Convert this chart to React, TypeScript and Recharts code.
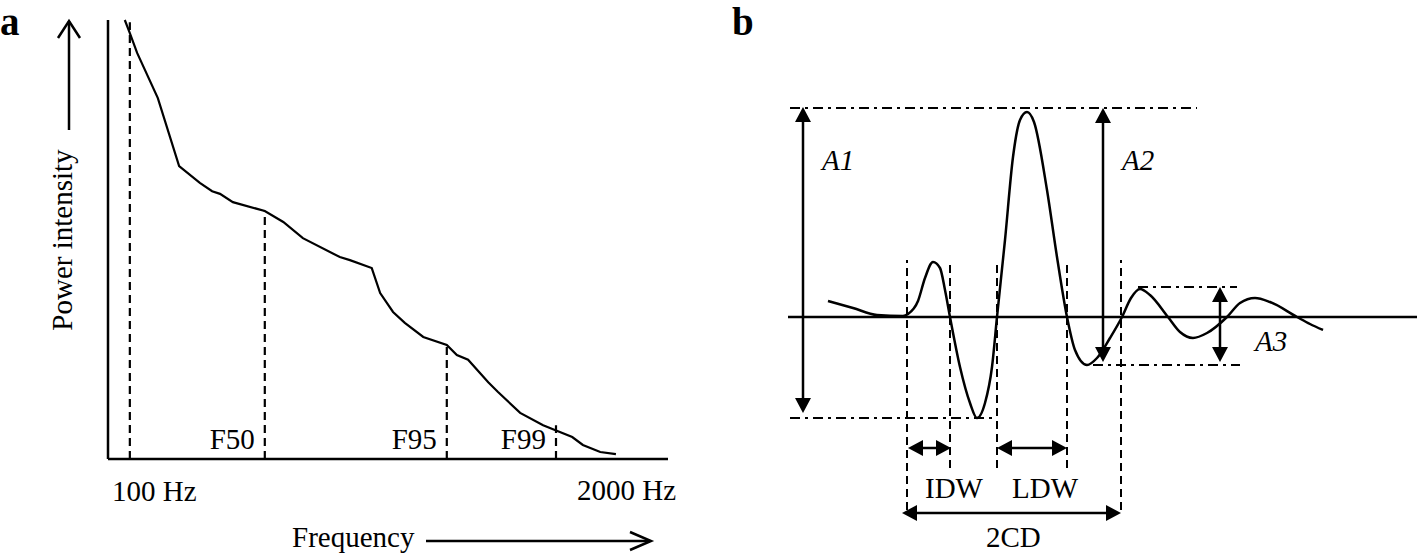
import { LineChart, Line, XAxis, YAxis, ReferenceLine } from 'recharts';

const serif = '"Liberation Serif", "Times New Roman", serif';

// panel a: power spectrum, relative frequency (0-100) vs relative power (0-100)
const specFreq = [3.0, 3.9, 5.2, 8.9, 12.7, 16.4, 18.6, 20.0, 22.3, 28.0, 31.3, 34.8, 41.4, 43.2, 47.1, 48.6, 50.9, 53.0, 56.3, 60.5, 62.3, 64.3, 67.9, 69.6, 73.6, 77.7, 79.8, 82.9, 84.8, 87.9, 90.7];
const specPower = [100, 97.0, 92.5, 82.2, 66.7, 62.9, 61.0, 60.4, 58.5, 56.5, 54.0, 50.3, 46.0, 45.3, 43.5, 37.8, 33.5, 31.0, 27.8, 26.0, 23.7, 22.6, 17.5, 15.3, 10.5, 7.7, 6.6, 5.0, 3.2, 1.6, 1.1];
const spectrum = specFreq.map((f, i) => ({ f, p: specPower[i] }));

// dashed frequency markers and where they meet the curve
const markerNames = ['', 'F50', 'F95', 'F99'];
const markerFreq = [3.9, 28.0, 60.5, 80.0];
const markerTop = [99.5, 56.5, 26.0, 7.7];

// panel b: motor unit potential, time units vs amplitude units
const waveT = [4.0, 6.5, 8.9, 11.5, 12.0, 13.0, 13.7, 14.5, 15.2, 15.7, 16.2, 17.2, 18.2, 18.9, 19.7, 20.4, 20.9, 21.7, 22.5, 23.2, 23.9, 24.6, 25.9, 26.9, 27.9, 28.7, 29.9, 30.9, 32.2, 33.4, 34.3, 35.2, 36.2, 38.0, 39.2, 40.5, 41.9, 43.9, 45.2, 46.7, 48.2, 50.9, 52.2, 53.5];
const waveA = [1.6, 0.9, 0.2, 0.1, 0.3, 1.6, 3.9, 5.5, 4.9, 2.7, 0, -5.0, -8.6, -10.1, -8.6, -5.0, 0, 7.7, 16.0, 19.7, 20.5, 19.5, 12.7, 6.0, 0, -3.3, -4.8, -4.1, -2.1, 0, 1.9, 2.8, 2.2, 0, -1.5, -2.1, -1.6, 0, 1.4, 1.9, 1.5, 0, -0.7, -1.3];
const wave = waveT.map((t, i) => ({ t, a: waveA[i] }));

// dashed time gates
const gateT = [11.9, 16.2, 20.9, 27.9, 33.3];
const gateBottom = [-19.3, -15.1, -15.1, -15.1, -19.3];
const gateTop = 5.7;

// dash-dot amplitude guides: level, start, end
const guideLevel = [20.9, -10.1, 3.0, -4.8];
const guideStart = [0.2, 0.2, 35.0, 30.5];
const guideEnd = [40.9, 20.7, 44.9, 45.2];

// vertical amplitude arrows
const ampNames = ['A1', 'A2', 'A3'];
const ampT = [1.5, 31.5, 43.2];
const ampTop = [21.0, 20.9, 3.0];
const ampBottom = [-9.6, -4.5, -4.5];
const ampDx = [19, 19, 35];
const ampDy = [63, 62, 64];

// horizontal duration arrows
const durNames = ['IDW', 'LDW', '2CD'];
const durA = [-13.1, -13.1, -19.6];
const durStart = [12.0, 20.9, 11.4];
const durEnd = [16.3, 27.9, 33.3];
const durDx = [17, 15, 84];
const durDy = [50, 50, 34];

const txt = { fontFamily: serif, fontSize: 29, fill: '#000' };

function DoubleArrow(props: any) {
  const { x1, y1, x2, y2 } = props;
  const len = 15;
  const half = 8;
  const dx = x2 - x1;
  const dy = y2 - y1;
  const L = Math.hypot(dx, dy) || 1;
  const ux = dx / L;
  const uy = dy / L;
  const nx = -uy;
  const ny = ux;
  const head = (tx: number, ty: number, dir: number) => {
    const bx = tx - dir * ux * len;
    const by = ty - dir * uy * len;
    return `${tx},${ty} ${bx + nx * half},${by + ny * half} ${bx - nx * half},${by - ny * half}`;
  };
  return (
    <g>
      <line x1={x1 + ux * 10} y1={y1 + uy * 10} x2={x2 - ux * 10} y2={y2 - uy * 10} stroke="#000" strokeWidth={2.5} />
      <polygon points={head(x2, y2, 1)} fill="#000" />
      <polygon points={head(x1, y1, -1)} fill="#000" />
    </g>
  );
}

const textLabel = (text: string, dx: number, dy: number, italic = false, fromBottom = false, anchor = 'start') =>
  (props: any) => {
    const vb = props.viewBox || {};
    const y = fromBottom ? vb.y + vb.height + dy : vb.y + dy;
    return (
      <text x={vb.x + dx} y={y} textAnchor={anchor} {...txt} fontStyle={italic ? 'italic' : 'normal'}>
        {text}
      </text>
    );
  };

function SpectrumPanel() {
  return (
    <div style={{ position: 'absolute', left: 0, top: 0 }}>
      <LineChart width={700} height={554} data={spectrum} margin={{ top: 20, left: 108, right: 32, bottom: 95 }}>
        <XAxis dataKey="f" type="number" domain={[0, 100]} hide height={0} />
        <YAxis type="number" domain={[0, 100]} hide width={0} />
        <ReferenceLine x={0} stroke="#000" strokeWidth={2.5} />
        <ReferenceLine y={0} stroke="#000" strokeWidth={2.5} />
        {markerFreq.map((f, i) => (
          <ReferenceLine
            key={i}
            segment={[{ x: f, y: 0 }, { x: f, y: markerTop[i] }]}
            stroke="#000"
            strokeWidth={2.2}
            strokeDasharray="8 5"
            label={markerNames[i] ? textLabel(markerNames[i], -10, -10, false, true, 'end') : undefined}
          />
        ))}
        <Line dataKey="p" type="linear" stroke="#000" strokeWidth={2.2} dot={false} isAnimationActive={false} />
      </LineChart>
    </div>
  );
}

function WavePanel() {
  return (
    <div style={{ position: 'absolute', left: 700, top: 0 }}>
      <LineChart width={717} height={554} data={wave} margin={{ top: 37, left: 88, right: 0, bottom: 37 }}>
        <XAxis dataKey="t" type="number" domain={[0, 62.9]} hide height={0} />
        <YAxis type="number" domain={[-20, 28]} hide width={0} />
        <ReferenceLine y={0} stroke="#000" strokeWidth={2.5} />
        {gateT.map((t, i) => (
          <ReferenceLine
            key={'g' + i}
            segment={[{ x: t, y: gateBottom[i] }, { x: t, y: gateTop }]}
            stroke="#000"
            strokeWidth={2}
            strokeDasharray="8 5"
          />
        ))}
        {guideLevel.map((a, i) => (
          <ReferenceLine
            key={'l' + i}
            segment={[{ x: guideStart[i], y: a }, { x: guideEnd[i], y: a }]}
            stroke="#000"
            strokeWidth={2}
            strokeDasharray="10 5 3 5"
          />
        ))}
        {ampNames.map((n, i) => (
          <ReferenceLine
            key={'a' + i}
            segment={[{ x: ampT[i], y: ampBottom[i] }, { x: ampT[i], y: ampTop[i] }]}
            shape={DoubleArrow}
            label={textLabel(n, ampDx[i], ampDy[i], true)}
          />
        ))}
        {durNames.map((n, i) => (
          <ReferenceLine
            key={'d' + i}
            segment={[{ x: durStart[i], y: durA[i] }, { x: durEnd[i], y: durA[i] }]}
            shape={DoubleArrow}
            label={textLabel(n, durDx[i], durDy[i])}
          />
        ))}
        <Line dataKey="a" type="monotone" stroke="#000" strokeWidth={2.5} dot={false} isAnimationActive={false} />
      </LineChart>
    </div>
  );
}

export default function App() {
  return (
    <div style={{ position: 'absolute', left: 0, top: 0, width: 1417, height: 554, background: '#fff' }}>
      <SpectrumPanel />
      <WavePanel />
      <svg width={1417} height={554} style={{ position: 'absolute', left: 0, top: 0, pointerEvents: 'none' }}>
        <text x={0} y={35} fontFamily={serif} fontSize={39} fontWeight="bold">a</text>
        <text x={732} y={35} fontFamily={serif} fontSize={39} fontWeight="bold">b</text>
        <line x1={69} y1={21} x2={69} y2={130} stroke="#000" strokeWidth={2.5} />
        <polyline points="58,38 69,21 80,38" fill="none" stroke="#000" strokeWidth={2.5} />
        <text transform="translate(72,240) rotate(-90)" textAnchor="middle" {...txt}>Power intensity</text>
        <text x={112} y={501} {...txt}>100 Hz</text>
        <text x={577} y={500} {...txt}>2000 Hz</text>
        <text x={292} y={547} {...txt}>Frequency</text>
        <line x1={426} y1={541} x2={650} y2={541} stroke="#000" strokeWidth={2.5} />
        <polyline points="630,532 651,541 630,550" fill="none" stroke="#000" strokeWidth={2.5} />
      </svg>
    </div>
  );
}
